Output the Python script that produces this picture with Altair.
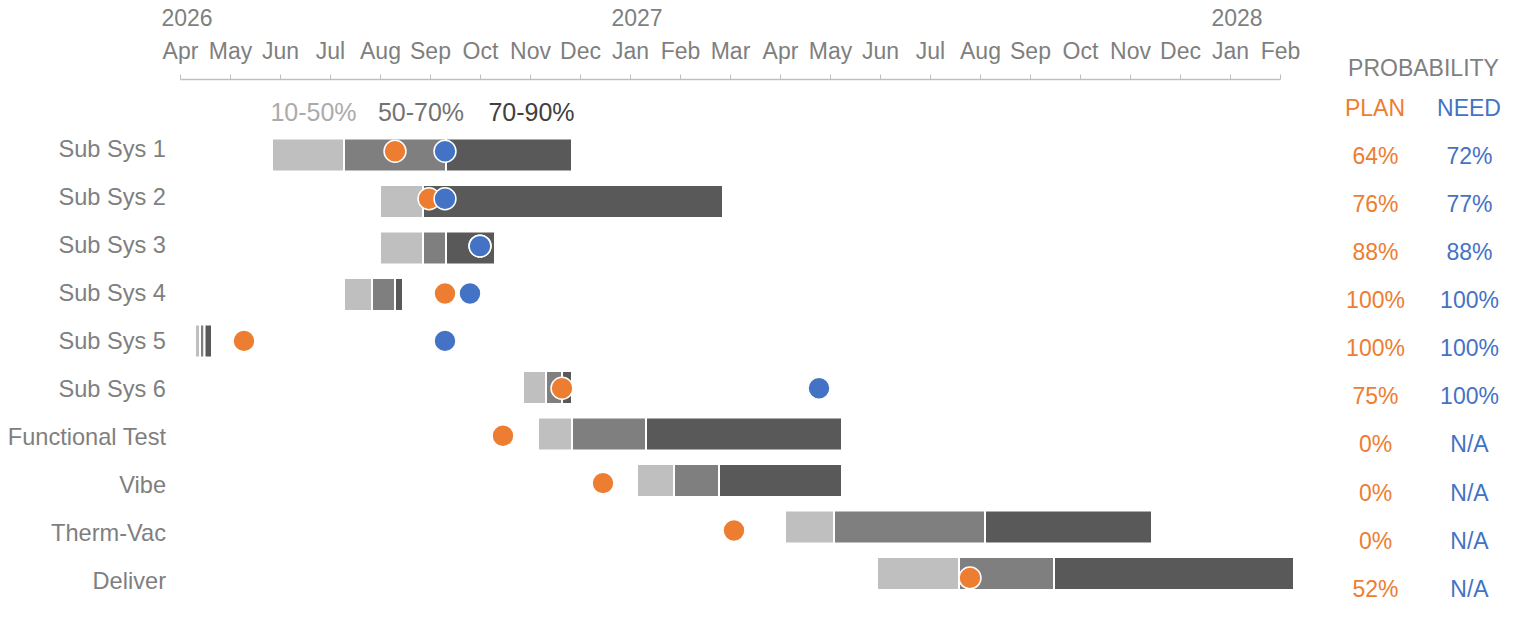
import altair as alt
import pandas as pd

FONT = "Liberation Sans"
GRAY_TXT = "#7F7F7F"
ORANGE = "#ED7D31"
BLUE = "#4472C4"

tasks = ["Sub Sys 1", "Sub Sys 2", "Sub Sys 3", "Sub Sys 4", "Sub Sys 5",
         "Sub Sys 6", "Functional Test", "Vibe", "Therm-Vac", "Deliver"]
# months since Apr 2026
seg_start = [1.84, 4.00, 4.00, 3.28, 0.30, 6.86, 7.16, 9.14, 12.10, 13.94]
seg_b1 = [3.28, 4.86, 4.86, 3.84, 0.40, 7.32, 7.84, 9.88, 13.08, 15.58]
seg_b2 = [5.32, 4.86, 5.32, 4.30, 0.49, 7.64, 9.32, 10.78, 16.10, 17.48]
seg_end = [7.84, 10.86, 6.30, 4.46, 0.64, 7.84, 13.24, 13.24, 19.44, 22.28]
plan_pos = [4.30, 4.98, 6.00, 5.30, 1.28, 7.64, 6.46, 8.46, 11.08, 15.80]
need_pos = [5.30, 5.30, 6.00, 5.80, 5.30, 12.78, None, None, None, None]
plan_prob = ["64%", "76%", "88%", "100%", "100%", "75%", "0%", "0%", "0%", "52%"]
need_prob = ["72%", "77%", "88%", "100%", "100%", "100%", "N/A", "N/A", "N/A", "N/A"]
bands = ["10-50%", "50-70%", "70-90%"]
months = ["Apr", "May", "Jun", "Jul", "Aug", "Sep", "Oct", "Nov", "Dec", "Jan", "Feb",
          "Mar", "Apr", "May", "Jun", "Jul", "Aug", "Sep", "Oct", "Nov", "Dec", "Jan", "Feb"]
years = ["2026", "2027", "2028"]
year_pos = [0, 9, 21]

# ---- tables built from the lists ----
seg_rows = []
for i, t in enumerate(tasks):
    edges = [seg_start[i], seg_b1[i], seg_b2[i], seg_end[i]]
    for k, b in enumerate(bands):
        seg_rows.append({"task": t, "idx": i, "band": b, "x0": edges[k], "x1": edges[k + 1]})
seg_df = pd.DataFrame(seg_rows)

row_df = pd.DataFrame({"task": tasks, "idx": list(range(len(tasks))),
                       "plan": plan_pos, "plan_prob": plan_prob, "need_prob": need_prob})
need_df = pd.DataFrame({"task": tasks, "idx": list(range(len(tasks))), "need": need_pos}).dropna()
year_df = pd.DataFrame({"year": years, "pos": year_pos})

# ---- scales / axis ----
W, H = 1100, 530
xscale = alt.Scale(domain=[0, 22], nice=False, zero=False)
label_expr = "[" + ",".join("'%s'" % m for m in months) + "][datum.value]"
xaxis = alt.Axis(orient="top", values=list(range(len(months))), labelExpr=label_expr,
                 title=None, grid=False, domainColor="#BFBFBF", domainWidth=1.5,
                 tickColor="#BFBFBF", tickSize=5, tickWidth=1, labelFont=FONT,
                 labelFontSize=23, labelColor=GRAY_TXT, labelPadding=16,
                 labelBaseline="alphabetic", labelFlush=False, labelOverlap=False,
                 labelBound=False)
ybar = alt.Scale(domain=[-1.525, 9.656], reverse=True, nice=False, zero=False)
ytxt = alt.Scale(domain=[-1.618, 9.417], reverse=True, nice=False, zero=False)

bars = alt.Chart(seg_df).mark_bar(size=33, stroke="white", strokeWidth=2).encode(
    x=alt.X("x0:Q", scale=xscale, axis=xaxis),
    x2="x1:Q",
    y=alt.Y("idx:Q", scale=ybar, axis=None),
    color=alt.Color("band:N", scale=alt.Scale(domain=bands, range=["#BFBFBF", "#7F7F7F", "#595959"]),
                    legend=None),
)

plan_pts = alt.Chart(row_df).mark_circle(size=480, color=ORANGE, opacity=1,
                                         stroke="white", strokeWidth=1.5).encode(
    x=alt.X("plan:Q", scale=xscale, axis=xaxis),
    y=alt.Y("idx:Q", scale=ybar, axis=None),
)
need_pts = alt.Chart(need_df).mark_circle(size=480, color=BLUE, opacity=1,
                                          stroke="white", strokeWidth=1.5).encode(
    x=alt.X("need:Q", scale=xscale, axis=xaxis),
    y=alt.Y("idx:Q", scale=ybar, axis=None),
)

row_labels = alt.Chart(row_df).mark_text(align="right", baseline="alphabetic", font=FONT,
                                         fontSize=23.6, color=GRAY_TXT).encode(
    x=alt.value(-14),
    y=alt.Y("idx:Q", scale=ytxt, axis=None),
    text="task:N",
)
plan_txt = alt.Chart(row_df).mark_text(align="center", baseline="alphabetic", font=FONT,
                                       fontSize=23, color=ORANGE, dy=7.6).encode(
    x=alt.value(1195.5),
    y=alt.Y("idx:Q", scale=ytxt, axis=None),
    text="plan_prob:N",
)
need_txt = alt.Chart(row_df).mark_text(align="center", baseline="alphabetic", font=FONT,
                                       fontSize=23, color=BLUE, dy=7.6).encode(
    x=alt.value(1289.5),
    y=alt.Y("idx:Q", scale=ytxt, axis=None),
    text="need_prob:N",
)

year_txt = alt.Chart(year_df).mark_text(align="center", baseline="alphabetic", font=FONT,
                                        fontSize=23, color=GRAY_TXT, dx=7).encode(
    x=alt.X("pos:Q", scale=xscale, axis=xaxis),
    y=alt.value(-53),
    text="year:N",
)

layers = [bars, plan_pts, need_pts, row_labels, plan_txt, need_txt, year_txt]

# legend labels above the bars
legend_x = [133.5, 241, 351.5]
legend_col = ["#ABABAB", "#737373", "#404040"]
for b, lx, lc in zip(bands, legend_x, legend_col):
    layers.append(
        alt.Chart(pd.DataFrame({"t": [b]})).mark_text(
            align="center", baseline="alphabetic", font=FONT, fontSize=25, color=lc
        ).encode(x=alt.value(lx), y=alt.value(42), text="t:N")
    )

# probability header
head_items = [("PROBABILITY", 1243.5, -3, GRAY_TXT), ("PLAN", 1195, 37, ORANGE), ("NEED", 1289, 37, BLUE)]
for txt, hx, hy, hc in head_items:
    layers.append(
        alt.Chart(pd.DataFrame({"t": [txt]})).mark_text(
            align="center", baseline="alphabetic", font=FONT, fontSize=23, color=hc
        ).encode(x=alt.value(hx), y=alt.value(hy), text="t:N")
    )

chart = alt.layer(*layers).resolve_scale(y="independent").properties(
    width=W, height=H,
    autosize=alt.AutoSizeParams(type="none"),
    padding={"left": 172, "top": 71, "right": 244, "bottom": 7},
    background="white",
).configure_view(stroke=None)

chart.save("out.html", embed_options={"renderer": "svg", "actions": False})
